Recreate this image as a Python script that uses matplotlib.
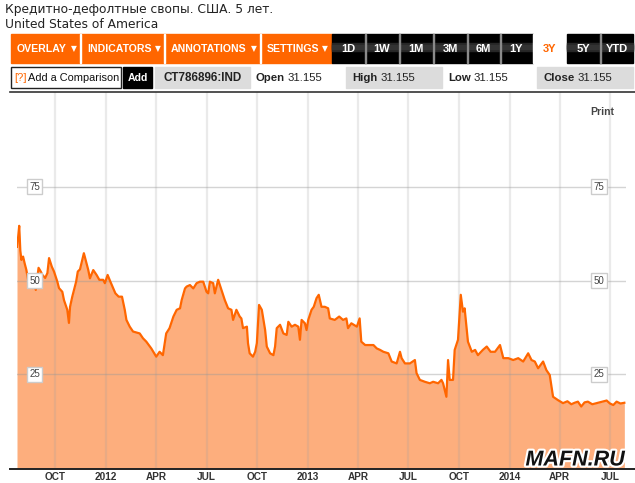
import matplotlib
matplotlib.use("Agg")
import matplotlib.pyplot as plt
import matplotlib.dates as mdates
import matplotlib.patheffects as pe
from matplotlib.patches import Rectangle
from matplotlib.lines import Line2D
import pandas as pd

# --- data ---
title_ru = "Кредитно-дефолтные свопы. США. 5 лет."
subtitle = "United States of America"
ticker = "CT786896:IND"
quote_fields = ["Open", "High", "Low", "Close"]
quote_values = ["31.155", "31.155", "31.155", "31.155"]
menu_labels = ["OVERLAY", "INDICATORS", "ANNOTATIONS", "SETTINGS"]
range_labels = ["1D", "1W", "1M", "3M", "6M", "1Y", "3Y", "5Y", "YTD"]
active_range = "3Y"
y_ticks = [25, 50, 75]

dates = [
    "2011-07-24", "2011-07-26", "2011-07-28", "2011-07-30", "2011-08-01", "2011-08-04",
    "2011-08-07", "2011-08-10", "2011-08-15", "2011-08-21", "2011-08-24", "2011-08-27",
    "2011-09-01", "2011-09-05", "2011-09-08", "2011-09-13", "2011-09-17", "2011-09-20",
    "2011-09-25", "2011-09-29", "2011-10-05", "2011-10-08", "2011-10-14", "2011-10-17",
    "2011-10-20", "2011-10-23", "2011-10-26", "2011-10-28", "2011-11-01", "2011-11-08",
    "2011-11-11", "2011-11-15", "2011-11-22", "2011-11-26", "2011-11-30", "2011-12-03",
    "2011-12-09", "2011-12-15", "2011-12-20", "2011-12-27", "2011-12-30", "2012-01-04",
    "2012-01-09", "2012-01-18", "2012-01-24", "2012-01-30", "2012-02-04", "2012-02-07",
    "2012-02-13", "2012-02-19", "2012-03-02", "2012-03-08", "2012-03-14", "2012-03-23",
    "2012-04-01", "2012-04-07", "2012-04-13", "2012-04-19", "2012-04-25", "2012-05-02",
    "2012-05-08", "2012-05-14", "2012-05-17", "2012-05-23", "2012-05-26", "2012-06-01",
    "2012-06-07", "2012-06-13", "2012-06-19", "2012-06-25", "2012-07-01", "2012-07-04",
    "2012-07-07", "2012-07-13", "2012-07-16", "2012-07-22", "2012-07-28", "2012-08-03",
    "2012-08-09", "2012-08-15", "2012-08-18", "2012-08-24", "2012-08-30", "2012-09-02",
    "2012-09-05", "2012-09-12", "2012-09-14", "2012-09-17", "2012-09-23", "2012-09-27",
    "2012-09-30", "2012-10-04", "2012-10-09", "2012-10-15", "2012-10-18", "2012-10-24",
    "2012-10-30", "2012-11-02", "2012-11-05", "2012-11-11", "2012-11-17", "2012-11-23",
    "2012-11-26", "2012-12-02", "2012-12-08", "2012-12-14", "2012-12-17", "2012-12-20",
    "2012-12-26", "2012-12-29", "2013-01-01", "2013-01-07", "2013-01-11", "2013-01-16",
    "2013-01-20", "2013-01-25", "2013-01-31", "2013-02-06", "2013-02-09", "2013-02-18",
    "2013-02-26", "2013-03-05", "2013-03-11", "2013-03-14", "2013-03-20", "2013-03-30",
    "2013-04-04", "2013-04-07", "2013-04-14", "2013-04-23", "2013-04-29", "2013-05-05",
    "2013-05-11", "2013-05-17", "2013-05-26", "2013-06-01", "2013-06-10", "2013-06-16",
    "2013-06-19", "2013-06-25", "2013-07-04", "2013-07-13", "2013-07-16", "2013-07-22",
    "2013-07-31", "2013-08-09", "2013-08-15", "2013-08-24", "2013-08-30", "2013-09-02",
    "2013-09-08", "2013-09-11", "2013-09-14", "2013-09-20", "2013-09-23", "2013-09-29",
    "2013-10-04", "2013-10-08", "2013-10-11", "2013-10-17", "2013-10-24", "2013-10-30",
    "2013-11-04", "2013-11-13", "2013-11-20", "2013-11-27", "2013-12-05", "2013-12-14",
    "2013-12-20", "2013-12-29", "2014-01-07", "2014-01-16", "2014-01-25", "2014-02-03",
    "2014-02-09", "2014-02-15", "2014-02-21", "2014-03-02", "2014-03-08", "2014-03-14",
    "2014-03-20", "2014-03-29", "2014-04-07", "2014-04-15", "2014-04-22", "2014-04-28",
    "2014-05-04", "2014-05-10", "2014-05-16", "2014-05-22", "2014-05-30", "2014-06-07",
    "2014-06-15", "2014-06-25", "2014-07-01", "2014-07-07", "2014-07-13", "2014-07-20",
    "2014-07-27",
]
spread = [
    59.0, 61.5, 64.6, 58.0, 55.5, 56.4,
    54.5, 52.8, 48.4, 48.0, 49.0, 47.5,
    53.4, 52.4, 51.5, 50.7, 52.0, 56.0,
    53.7, 52.4, 49.7, 48.0, 47.0, 44.8,
    43.5, 42.2, 38.7, 43.0, 45.7, 49.7,
    52.4, 53.0, 57.3, 55.0, 52.8, 50.6,
    52.8, 51.5, 50.2, 50.2, 49.3, 51.5,
    49.7, 46.6, 45.7, 45.7, 42.2, 39.5,
    37.7, 36.4, 35.9, 34.6, 33.7, 31.9,
    29.7, 31.0, 30.1, 35.9, 37.3, 40.4,
    42.2, 42.6, 44.8, 47.9, 48.4, 48.8,
    47.9, 49.3, 49.7, 49.7, 47.0, 46.6,
    49.7, 49.3, 46.6, 50.2, 47.5, 44.8,
    42.6, 42.2, 39.5, 42.2, 40.4, 39.9,
    37.3, 37.7, 33.3, 30.6, 29.7, 31.0,
    33.3, 43.5, 42.2, 36.8, 32.4, 30.6,
    30.1, 32.4, 37.3, 38.2, 35.9, 35.5,
    39.0, 37.7, 38.2, 37.7, 34.2, 39.5,
    38.6, 36.8, 39.5, 42.2, 43.0, 45.3,
    46.2, 43.0, 43.0, 42.6, 39.9, 39.5,
    40.4, 39.5, 39.9, 37.3, 38.6, 37.7,
    39.9, 33.7, 32.8, 32.8, 32.8, 31.9,
    31.5, 31.0, 30.6, 28.4, 27.9, 31.0,
    29.3, 27.9, 27.9, 28.8, 25.3, 23.5,
    23.0, 22.6, 23.0, 22.6, 23.5, 22.6,
    19.0, 28.8, 23.5, 23.5, 31.5, 34.2,
    46.2, 41.7, 42.6, 33.7, 31.0, 31.5,
    30.1, 31.5, 32.4, 31.0, 31.0, 32.8,
    29.3, 29.3, 28.8, 29.3, 28.4, 30.6,
    28.8, 28.4, 26.6, 28.4, 26.1, 24.8,
    19.0, 18.1, 17.3, 17.8, 17.0, 17.4,
    17.7, 16.4, 17.5, 17.7, 17.0, 17.3,
    17.6, 18.0, 17.2, 16.8, 17.7, 17.2,
    17.4,
]

W, H = 635, 483
ORANGE = "#ff6600"
FILL = "#fdae7d"
ARIAL = ["Liberation Sans", "DejaVu Sans"]

fig = plt.figure(figsize=(W / 100, H / 100), dpi=100)


def box(x, y, w, h, **kw):
    # rectangle in screenshot pixel units (top-left origin)
    fig.patches.append(Rectangle((x / W, 1 - (y + h) / H), w / W, h / H,
                                 transform=fig.transFigure, **kw))


def label(x, y, s, **kw):
    kw.setdefault("family", ARIAL)
    fig.text(x / W, 1 - y / H, s, **kw)


def hline(x0, x1, y, **kw):
    fig.lines.append(Line2D([x0 / W, x1 / W], [1 - y / H, 1 - y / H],
                            transform=fig.transFigure, **kw))


# --- titles ---
label(5, 9, title_ru, fontsize=8.8, va="center", color="#222222", family="DejaVu Sans")
label(5, 24, subtitle, fontsize=8.8, va="center", color="#222222", family="DejaVu Sans")

# --- orange menu bar ---
menu_edges = [11, 81, 165, 261, 332]
box(11, 34, 321, 29, color=ORANGE)
for i, name in enumerate(menu_labels):
    if i > 0:
        box(menu_edges[i] - 1, 34, 1.2, 29, color="white")
    cx = (menu_edges[i] + menu_edges[i + 1]) / 2
    label(cx - 4, 48.5, name, fontsize=7.6, weight="bold", color="white",
          ha="center", va="center")
    label(menu_edges[i + 1] - 7, 48.5, "\u25bc", fontsize=5.5, color="white",
          ha="center", va="center", family="DejaVu Sans")

# --- range buttons ---
range_edges = [332, 365, 399, 433, 467, 500, 533, 567, 600, 633]
for i, name in enumerate(range_labels):
    x0, x1 = range_edges[i], range_edges[i + 1]
    if name == active_range:
        box(x0, 34, x1 - x0, 29, color="white")
        tc = ORANGE
    else:
        box(x0, 34, x1 - x0, 29, color="#000000")
        box(x0, 43, x1 - x0, 8, color="#262626")
        box(x0, 45.5, x1 - x0, 3, color="#333333")
        tc = "white"
    if i > 0 and name != active_range and range_labels[i - 1] != active_range:
        box(x0 - 0.5, 34, 1.2, 29, color="#8a8a8a")
    label((x0 + x1) / 2, 48.5, name, fontsize=8, weight="bold", color=tc,
          ha="center", va="center")

# --- comparison / quote row ---
box(11, 67, 110, 21, facecolor="white", edgecolor="#222222", linewidth=1)
label(14, 78, "[?]", fontsize=8, color=ORANGE, va="center")
label(28, 78, "Add a Comparison", fontsize=7.9, color="#111111", va="center")
box(123, 67, 29, 21, color="#000000")
label(137.5, 78, "Add", fontsize=7.6, weight="bold", color="white", ha="center", va="center")
box(155, 67, 95, 21, color="#dcdcdc")
label(203, 78, ticker, fontsize=8.4, weight="bold", color="#222222", ha="center", va="center")
box(346, 67, 96, 21, color="#dcdcdc")
box(537, 67, 96, 21, color="#dcdcdc")
field_x = [256, 352, 448, 543]
value_x = [288, 381, 474, 578]
for f, v, fx, vx in zip(quote_fields, quote_values, field_x, value_x):
    label(fx, 78, f, fontsize=8.2, weight="bold", color="#222222", va="center")
    label(vx, 78, v, fontsize=8.2, color="#222222", va="center")

# --- chart ---
ax = fig.add_axes([17 / W, 1 - 468 / H, (626 - 17) / W, (468 - 92) / H])
x = pd.to_datetime(dates)
ax.fill_between(x, spread, 0, color=FILL, lw=0, zorder=1)
ax.plot(x, spread, color=ORANGE, lw=1.6, zorder=4, solid_joinstyle="round")

ax.set_xlim(pd.Timestamp("2011-07-24"), pd.Timestamp("2014-07-30"))
ax.set_ylim(0, 100.3)

ax.xaxis.set_major_locator(mdates.MonthLocator(bymonth=[1, 4, 7, 10]))


def quarter_label(v, pos):
    d = mdates.num2date(v)
    return str(d.year) if d.month == 1 else d.strftime("%b").upper()


ax.xaxis.set_major_formatter(plt.FuncFormatter(quarter_label))
ax.set_yticks(y_ticks)
ax.set_yticklabels([])
ax.tick_params(axis="both", length=0)
ax.tick_params(axis="x", pad=3, labelsize=7.2, labelcolor="#333333")
for t in ax.get_xticklabels():
    t.set_fontweight("bold")
    t.set_family(ARIAL)
for s in ax.spines.values():
    s.set_visible(False)

ax.grid(axis="x", color="#a0a0a0", alpha=0.22, lw=1.6, zorder=2)
ax.grid(axis="y", color="#999999", alpha=0.42, lw=1.0, zorder=2)
ax.set_axisbelow(False)

for v in y_ticks:
    for xf in (0.029, 0.956):
        ax.text(xf, v, str(v), transform=ax.get_yaxis_transform(), ha="center", va="center",
                fontsize=7, color="#444444", family=ARIAL, zorder=5,
                bbox=dict(boxstyle="square,pad=0.25", facecolor="white",
                          edgecolor="#cccccc", linewidth=1))

hline(10, 635, 92, color="#333333", lw=1.2)
hline(10, 635, 468.5, color="#222222", lw=1.4)
label(602, 112, "Print", fontsize=7.5, weight="bold", color="#444444", ha="center", va="center")

label(575, 460, "MAFN.RU", fontsize=15.5, weight="bold", style="italic", color="#111111",
      ha="center", va="center", family=ARIAL,
      path_effects=[pe.withStroke(linewidth=3, foreground="white")])

fig.savefig("out.png", dpi=100)
